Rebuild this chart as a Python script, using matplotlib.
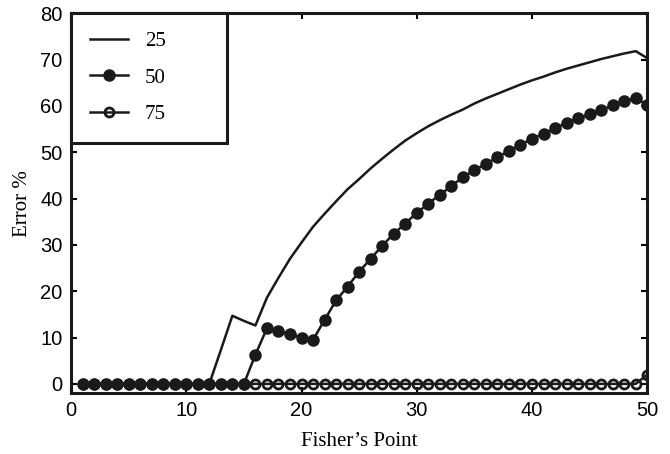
import numpy as np
import matplotlib.pyplot as plt

# Fisher's point (x) and error % for each setting
x = list(range(1, 51))

err_25 = [0] * 12 + [7.3, 14.7, 13.6, 12.6, 18.6, 22.9, 27.0, 30.5,
                     33.9, 36.7, 39.4, 42.0, 44.2, 46.5, 48.6, 50.6, 52.5, 54.1,
                     55.6, 56.9, 58.1, 59.2, 60.5, 61.6, 62.6, 63.6, 64.6, 65.5,
                     66.3, 67.2, 68.0, 68.7, 69.4, 70.1, 70.7, 71.3, 71.8, 70.3]

err_50 = [0] * 15 + [6.3, 12.0, 11.4, 10.7, 10.0, 9.5, 13.8, 18.0, 21.0,
                     24.2, 27.0, 29.8, 32.4, 34.6, 36.9, 38.9, 40.8, 42.7, 44.6,
                     46.1, 47.5, 48.9, 50.3, 51.6, 52.9, 54.0, 55.2, 56.3, 57.3,
                     58.2, 59.1, 60.1, 61.0, 61.7, 60.2]

err_75 = [0] * 49 + [2.0]

labels = ['25', '50', '75']

fig = plt.figure(figsize=(6.7, 4.54), dpi=100)
ax = fig.add_axes([0.106, 0.134, 0.860, 0.837])

ax.plot(x, err_25, color='#1a1a1a', lw=1.8, label=labels[0])
ax.plot(x, err_50, color='#1a1a1a', lw=1.8, marker='o', ms=8,
        mfc='#1a1a1a', mec='#1a1a1a', label=labels[1])
ax.plot(x, err_75, color='#1a1a1a', lw=1.8, marker='o', ms=6.5,
        mfc='none', mec='#1a1a1a', mew=2, label=labels[2])

ax.set_xlim(0, 50)
ax.set_ylim(-2, 80)
ax.set_xticks(np.arange(0, 51, 10))
ax.set_yticks(np.arange(0, 81, 10))

for s in ax.spines.values():
    s.set_linewidth(2.2)
    s.set_color('#1a1a1a')
ax.tick_params(direction='in', length=4, width=1.5, top=True, right=True,
               labelsize=14.5, pad=6)
for t in ax.get_xticklabels() + ax.get_yticklabels():
    t.set_family('Liberation Sans')

ax.set_xlabel('Fisher\u2019s Point', family='Liberation Serif', fontsize=15, labelpad=8)
ax.set_ylabel('Error %', family='Liberation Serif', fontsize=15, labelpad=6)

leg = ax.legend(loc='upper left', bbox_to_anchor=(0, 1, 0.271, 0), mode='expand',
                borderaxespad=0, fancybox=False, edgecolor='#1a1a1a',
                prop={'family': 'Liberation Serif', 'size': 15},
                handlelength=1.85, handletextpad=0.8, borderpad=0.9,
                labelspacing=0.8, framealpha=1)
leg.get_frame().set_linewidth(2.2)

fig.savefig('out.png', dpi=100)
